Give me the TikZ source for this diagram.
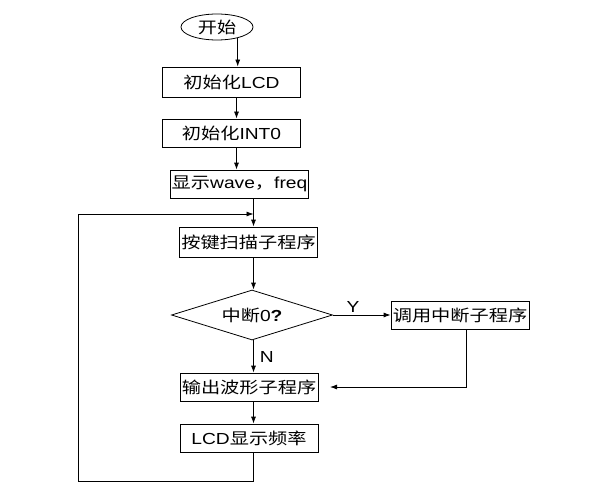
\documentclass[tikz,border=0pt]{standalone}
\usepackage{fontspec}
\setmainfont[FakeStretch=1.2]{Liberation Sans}
\newfontfamily\cjk[FakeStretch=1.2]{Noto Sans CJK SC}
\usetikzlibrary{shapes.geometric,arrows.meta}

\begin{document}
\begin{tikzpicture}[x=1pt,y=1pt,
	every node/.style={font=\fontsize{16pt}{18pt}\selectfont,inner sep=0pt},
	proc/.style={draw,line width=0.8pt,minimum width=138pt,minimum height=28pt},
	arr/.style={-{Latex[length=7pt,width=5pt]},line width=0.8pt}]
	\useasboundingbox (0,0) rectangle (599,499);

	\node[draw,ellipse,line width=0.8pt,minimum width=72pt,minimum height=26pt] (start) at (217,472) {\cjk 开始};
	\node[proc,minimum height=30pt] (lcd) at (231.5,417) {{\cjk 初始化}LCD};
	\node[proc] (int) at (231.5,366) {{\cjk 初始化}INT0};
	\node[proc] (show) at (239.5,315) {{\cjk 显示}wave{\cjk ，}freq};
	\node[proc,minimum height=30pt] (key) at (248.5,257) {\cjk 按键扫描子程序};
	\node[draw,diamond,aspect=3.2,line width=0.8pt,minimum width=161pt,minimum height=50pt] (ask) at (252,184) {{\cjk 中断}0\textbf{?}};
	\node[proc] (call) at (460,184) {\cjk 调用中断子程序};
	\node[proc] (wave) at (249,112) {\cjk 输出波形子程序};
	\node[proc] (freq) at (249,61) {{LCD}\cjk 显示频率};

	\coordinate (upper) at (236.5,0);
	\coordinate (spine) at (253.5,0);
	\coordinate (join) at (253.5,285);
	\coordinate (corner) at (78,18);
	\coordinate (back) at (330,112);

	\draw[arr] (start.-28) -- (start.-28 |- lcd.north);
	\draw[arr] (lcd.south -| upper) -- (int.north -| upper);
	\draw[arr] (int.south -| upper) -- (show.north -| upper);
	\draw[arr] (show.south -| spine) -- (key.north -| spine);
	\draw[arr] (key.south -| spine) -- (ask.north -| spine);
	\draw[arr] (ask.east) -- (call.west) node[pos=0.35,above=2pt] {Y};
	\draw[arr] (ask.south -| spine) -- (wave.north -| spine) node[midway,right=6pt] {N};
	\draw[arr] ([xshift=6pt]call.south) |- (back);
	\draw[arr] (wave.south -| spine) -- (freq.north -| spine);
	\draw[arr] (freq.south -| spine) |- (corner) |- (join);
\end{tikzpicture}
\end{document}
